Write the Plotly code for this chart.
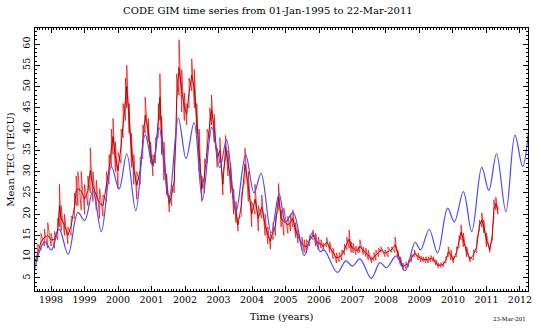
import plotly.graph_objects as go

# ---- Data (decimal years, TECU) ----
# Red: observed daily mean TEC, given as low/high envelope at sample times
red_t = [1997.50, 1997.60, 1997.70, 1997.80, 1997.90, 1998.00, 1998.10, 1998.20, 1998.25, 1998.30,
         1998.40, 1998.50, 1998.60, 1998.70, 1998.75, 1998.80, 1998.90, 1999.00, 1999.10, 1999.17,
         1999.25, 1999.35, 1999.45, 1999.55, 1999.65, 1999.73, 1999.80, 1999.85, 1999.92, 2000.00,
         2000.09, 2000.15, 2000.22, 2000.26, 2000.33, 2000.40, 2000.47, 2000.56, 2000.66, 2000.74,
         2000.81, 2000.90, 2000.97, 2001.04, 2001.12, 2001.20, 2001.25, 2001.30, 2001.37, 2001.45,
         2001.53, 2001.60, 2001.68, 2001.75, 2001.82, 2001.90, 2001.98, 2002.05, 2002.12, 2002.20,
         2002.28, 2002.35, 2002.42, 2002.50, 2002.58, 2002.66, 2002.74, 2002.79, 2002.87, 2002.96,
         2003.04, 2003.13, 2003.21, 2003.28, 2003.36, 2003.45, 2003.52, 2003.58, 2003.68, 2003.79,
         2003.89, 2003.99, 2004.09, 2004.19, 2004.29, 2004.39, 2004.47, 2004.55, 2004.63, 2004.70,
         2004.79, 2004.87, 2004.95, 2005.07, 2005.15, 2005.22, 2005.30, 2005.37, 2005.49, 2005.56,
         2005.63, 2005.72, 2005.82, 2005.90, 2005.98, 2006.06, 2006.13, 2006.23, 2006.32, 2006.42,
         2006.52, 2006.60, 2006.68, 2006.76, 2006.83, 2006.90, 2006.96, 2007.02, 2007.10, 2007.17,
         2007.22, 2007.32, 2007.40, 2007.47, 2007.57, 2007.64, 2007.70, 2007.78, 2007.85, 2007.97,
         2008.06, 2008.17, 2008.27, 2008.35, 2008.43, 2008.51, 2008.60, 2008.67, 2008.76, 2008.85,
         2008.96, 2009.04, 2009.11, 2009.19, 2009.26, 2009.34, 2009.41, 2009.49, 2009.56, 2009.64,
         2009.71, 2009.79, 2009.86, 2009.94, 2010.01, 2010.11, 2010.18, 2010.24, 2010.31, 2010.41,
         2010.51, 2010.61, 2010.71, 2010.79, 2010.86, 2010.92, 2011.00, 2011.10, 2011.18, 2011.22,
         2011.28, 2011.34]
red_lo = [7.0, 9.0, 11.5, 12.5, 12.0, 12.5, 12.0, 14.0, 17.0, 16.0,
          15.0, 13.0, 15.0, 19.0, 22.0, 22.0, 21.0, 20.0, 22.0, 25.0,
          23.0, 21.0, 19.0, 19.5, 23.0, 27.0, 31.0, 34.0, 30.0, 26.0,
          32.0, 38.0, 42.0, 45.0, 39.0, 31.0, 27.0, 23.5, 27.0, 33.0,
          39.0, 37.0, 32.0, 29.0, 32.0, 38.0, 42.0, 34.0, 28.0, 24.5,
          20.5, 22.0, 25.0, 40.0, 48.0, 44.0, 42.0, 41.0, 45.0, 49.0,
          45.0, 39.0, 30.0, 23.0, 25.0, 32.0, 38.0, 41.0, 37.0, 31.0,
          32.0, 24.5, 33.0, 29.0, 25.0, 20.0, 18.0, 16.0, 19.5, 28.0,
          23.0, 17.0, 20.0, 16.0, 19.0, 15.0, 13.0, 11.8, 14.0, 15.0,
          21.0, 17.0, 15.0, 15.5, 16.0, 17.0, 14.5, 13.2, 11.6, 11.0,
          10.9, 12.5, 14.0, 12.5, 11.6, 12.0, 11.6, 12.3, 11.0, 9.5,
          8.5, 8.8, 9.2, 10.5, 11.6, 12.0, 11.0, 10.9, 10.5, 10.9,
          11.0, 10.5, 10.0, 9.2, 8.5, 9.0, 9.2, 10.0, 11.0, 10.0,
          10.0, 11.0, 11.0, 10.0, 8.0, 6.9, 7.2, 7.6, 8.8, 10.0,
          9.2, 8.8, 8.8, 8.5, 8.5, 8.8, 8.8, 8.0, 7.4, 7.5,
          7.6, 8.5, 10.0, 9.2, 8.5, 10.0, 12.0, 14.0, 12.3, 10.0,
          8.8, 9.2, 10.9, 16.3, 17.0, 15.6, 12.3, 11.0, 14.0, 19.0,
          21.0, 20.0]
red_hi = [9.5, 13.0, 15.5, 16.5, 18.0, 15.5, 16.0, 19.0, 27.0, 22.0,
          20.0, 17.0, 19.5, 25.0, 29.0, 30.0, 30.0, 27.0, 29.0, 35.5,
          30.0, 28.0, 26.0, 24.5, 30.0, 34.0, 40.0, 42.5, 37.0, 34.5,
          40.0, 46.0, 52.0, 55.0, 46.0, 39.0, 34.0, 30.0, 33.5, 41.0,
          47.5, 42.5, 37.0, 34.0, 38.0, 46.0, 53.0, 43.0, 37.0, 29.5,
          24.5, 27.0, 31.0, 53.0, 61.0, 54.0, 48.5, 46.0, 52.0, 56.5,
          54.0, 46.0, 40.0, 29.0, 33.0, 40.0, 45.0, 48.0, 43.5, 35.5,
          38.0, 29.5, 38.5, 35.0, 32.0, 26.0, 23.0, 19.0, 24.5, 35.5,
          30.0, 23.0, 27.0, 22.0, 24.5, 20.0, 17.0, 15.5, 18.0, 19.5,
          27.2, 21.0, 21.5, 19.5, 20.0, 21.0, 18.0, 16.3, 14.6, 14.0,
          14.0, 15.0, 16.3, 15.5, 14.6, 14.0, 13.2, 14.5, 13.5, 12.0,
          10.9, 11.0, 11.6, 13.0, 14.6, 16.3, 13.5, 13.2, 12.5, 12.3,
          14.0, 12.3, 12.0, 11.6, 10.0, 11.0, 11.6, 12.0, 12.3, 11.6,
          12.3, 12.3, 14.6, 11.6, 10.0, 8.5, 8.8, 9.2, 10.5, 11.6,
          10.9, 10.2, 10.0, 10.0, 10.0, 10.3, 10.0, 9.3, 8.5, 8.6,
          8.8, 10.0, 12.3, 11.6, 10.0, 12.3, 15.0, 17.5, 15.6, 12.3,
          10.0, 11.6, 14.0, 18.6, 20.3, 18.6, 15.6, 12.3, 17.0, 23.4,
          24.0, 22.0]

# Blue: fitted / predicted curve (extrema and turning points)
blue_t = [1997.50, 1997.81, 1998.01, 1998.24, 1998.51, 1998.80, 1999.00, 1999.25, 1999.50, 1999.80,
          2000.03, 2000.26, 2000.53, 2000.81, 2001.04, 2001.23, 2001.52, 2001.80, 2002.03, 2002.27,
          2002.52, 2002.80, 2003.04, 2003.24, 2003.52, 2003.81, 2004.06, 2004.27, 2004.57, 2004.81,
          2005.00, 2005.23, 2005.56, 2005.80, 2006.04, 2006.15, 2006.55, 2006.80, 2007.00, 2007.22,
          2007.56, 2007.82, 2008.02, 2008.30, 2008.57, 2008.87, 2009.03, 2009.29, 2009.54, 2009.84,
          2010.04, 2010.31, 2010.56, 2010.86, 2011.07, 2011.30, 2011.58, 2011.85, 2012.08, 2012.25]
blue_v = [6.9, 13.5, 11.6, 16.5, 10.6, 20.4, 18.5, 25.5, 15.9, 31.2,
          25.9, 34.2, 20.8, 38.7, 31.3, 40.3, 23.4, 42.6, 33.1, 41.5,
          23.4, 40.4, 30.9, 37.5, 20.5, 34.0, 25.0, 29.6, 15.6, 24.8,
          18.2, 20.4, 10.3, 15.6, 11.2, 11.6, 6.3, 9.0, 7.8, 9.5,
          4.9, 8.6, 7.4, 10.2, 6.7, 13.4, 11.6, 16.4, 10.9, 21.4,
          18.2, 25.3, 15.9, 31.0, 25.6, 34.2, 20.6, 38.6, 31.2, 39.0]

x_ticks = list(range(1998, 2013))
y_ticks = list(range(5, 61, 5))

FONT = "DejaVu Serif"

# build the hatched envelope path (vertical stroke at each sample)
zx, zy = [], []
for t, lo, hi in zip(red_t, red_lo, red_hi):
    zx += [t, t]
    zy += [lo, hi]
mid = [(lo + hi) / 2 for lo, hi in zip(red_lo, red_hi)]

fig = go.Figure()
fig.add_trace(go.Scatter(x=zx, y=zy, mode="lines",
                         line=dict(color="rgba(240,0,0,0.7)", width=1), hoverinfo="skip"))
fig.add_trace(go.Scatter(x=red_t, y=mid, mode="lines",
                         line=dict(color="#a00000", width=0.9)))
fig.add_trace(go.Scatter(x=blue_t, y=blue_v, mode="lines",
                         line=dict(color="#4a4aff", width=1.2, shape="spline", smoothing=1.0)))

axis_common = dict(showline=True, linecolor="black", linewidth=1, mirror="ticks",
                   ticks="inside", tickcolor="black", showgrid=False, zeroline=False,
                   automargin=False)

fig.update_layout(
    width=550, height=328,
    margin=dict(l=35, r=22, t=28, b=37),
    paper_bgcolor="white", plot_bgcolor="white",
    showlegend=False,
    hovermode=False,
    title=dict(text="CODE GIM time series from 01-Jan-1995 to 22-Mar-2011",
               x=0.487, xanchor="center", y=0.968, yanchor="middle",
               font=dict(family=FONT, size=10, color="black")),
    xaxis=dict(range=[1997.52, 2012.24], tickvals=x_ticks, ticktext=[str(v) for v in x_ticks],
               ticklen=5, tickfont=dict(family=FONT, size=9.5, color="black"),
               minor=dict(ticks="inside", dtick=1/12, tick0=1998, ticklen=2, tickcolor="black"),
               title=dict(text="Time (years)", font=dict(family=FONT, size=10, color="black"),
                          standoff=8),
               **axis_common),
    yaxis=dict(range=[1.94, 63.76], tickvals=y_ticks, ticktext=[str(v) for v in y_ticks],
               ticklen=5, tickangle=-90, tickfont=dict(family=FONT, size=9.5, color="black"),
               minor=dict(ticks="inside", dtick=1, ticklen=2, tickcolor="black"),
               title=dict(text="Mean TEC (TECU)", font=dict(family=FONT, size=10, color="black"),
                          standoff=4),
               **axis_common),
    annotations=[dict(text="23-Mar-201", x=1.0, xref="paper", xanchor="right",
                      y=-0.105, yref="paper", yanchor="middle", showarrow=False,
                      font=dict(family=FONT, size=5.5, color="black"))],
)

fig.write_html("out.html", config={"displayModeBar": False},
               post_script="document.body.style.margin='0px';document.body.style.overflow='hidden';")
